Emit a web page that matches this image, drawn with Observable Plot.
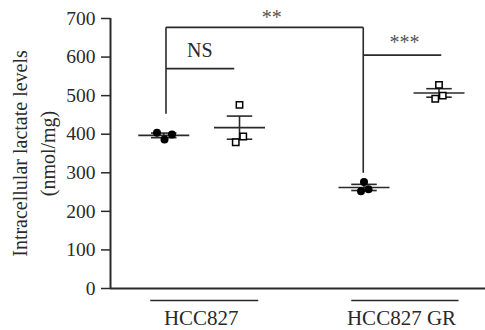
<!DOCTYPE html>
<html><head><meta charset="utf-8">
<script src="https://cdn.jsdelivr.net/npm/d3@7"></script>
<script src="https://cdn.jsdelivr.net/npm/@observablehq/plot@0.6"></script>
<style>body{margin:0;background:#fff} svg{display:block}</style>
</head><body><div id="chart"></div>
<script>
// groups (two per cell line)
const groupPos   = [0.71, 1.72, 3.38, 4.38];
const groupShape = ["circle", "square", "circle", "square"];
const groupMean  = [397, 417, 262, 507];
const groupSem   = [6, 30, 8, 11];
// individual points
const pointGroup  = [0, 0, 0, 1, 1, 1, 2, 2, 2, 3, 3, 3];
const pointValue  = [404, 386, 399, 476, 394, 379, 276, 252, 257, 528, 500, 492];
const pointJitter = [-0.09, 0.01, 0.11, 0, 0.05, -0.05, 0, -0.04, 0.06, 0, 0.05, -0.05];
// cell lines
const cellLines    = ["HCC827", "HCC827 GR"];
const cellLabelPos = [1.21, 3.88];
const cellSpanFrom = [0.53, 3.21];
const cellSpanTo   = [1.97, 4.64];
// y ticks
const yTicks = [0, 100, 200, 300, 400, 500, 600, 700];
// significance brackets
const sigLabels = ["NS", "**", "***"];
const sigX      = [1.19, 2.15, 3.92];
const sigY      = [600, 686, 622];
const sigColor  = ["#2a2a2a", "#555", "#555"];
const brX1 = [0.74, 0.74, 3.37, 3.37, 0.74];
const brX2 = [1.65, 3.37, 4.41, 3.37, 0.74];
const brY1 = [570, 677, 605, 677, 677];
const brY2 = [570, 677, 605, 300, 453];
// axis title
const yTitle = "Intracellular lactate levels\n(nmol/mg)";

const font = "Liberation Serif, Times New Roman, serif";
const groups = groupPos.map((p, i) => ({pos: p, shape: groupShape[i], mean: groupMean[i], sem: groupSem[i]}));
const points = pointValue.map((v, i) => ({x: groupPos[pointGroup[i]] + pointJitter[i], y: v, shape: groupShape[pointGroup[i]]}));
const cells = cellLines.map((c, i) => ({name: c, x: cellLabelPos[i], x1: cellSpanFrom[i], x2: cellSpanTo[i]}));
const sigs = sigLabels.map((s, i) => ({label: s, x: sigX[i], y: sigY[i], color: sigColor[i]}));
const brackets = brX1.map((x, i) => ({x1: x, x2: brX2[i], y1: brY1[i], y2: brY2[i]}));
const ink = "#2a2a2a";

const chart = Plot.plot({
  width: 485, height: 330,
  marginLeft: 110, marginRight: 0, marginTop: 18, marginBottom: 42,
  style: {fontFamily: font, fontSize: "19px", color: ink, background: "#fff", overflow: "visible"},
  x: {domain: [0, 5], axis: null},
  y: {domain: [0, 700], axis: null},
  marks: [
    Plot.axisY({ticks: yTicks, tickSize: 9, tickPadding: 6, label: null, fontSize: 19.5, stroke: ink, strokeWidth: 1.5}),
    Plot.ruleX([0], {y1: 0, y2: 700, stroke: ink, strokeWidth: 2}),
    Plot.ruleY([0], {stroke: ink, strokeWidth: 2.2}),
    // brackets
    Plot.link(brackets, {x1: "x1", x2: "x2", y1: "y1", y2: "y2", stroke: ink, strokeWidth: 1.6}),
    // mean and SEM
    Plot.link(groups, {x1: d => d.pos - 0.34, x2: d => d.pos + 0.34, y1: "mean", y2: "mean", stroke: ink, strokeWidth: 1.6}),
    Plot.link(groups, {x1: d => d.pos - 0.17, x2: d => d.pos + 0.17, y1: d => d.mean + d.sem, y2: d => d.mean + d.sem, stroke: ink, strokeWidth: 1.6}),
    Plot.link(groups, {x1: d => d.pos - 0.17, x2: d => d.pos + 0.17, y1: d => d.mean - d.sem, y2: d => d.mean - d.sem, stroke: ink, strokeWidth: 1.6}),
    Plot.link(groups, {x1: "pos", x2: "pos", y1: d => d.mean - d.sem, y2: d => d.mean + d.sem, stroke: ink, strokeWidth: 1.6}),
    // points
    Plot.dot(points.filter(d => d.shape === "circle"), {x: "x", y: "y", r: 4, fill: "#000", stroke: "none"}),
    Plot.dot(points.filter(d => d.shape === "square"), {x: "x", y: "y", r: 3.6, symbol: "square", fill: "#fff", stroke: "#000", strokeWidth: 1.5}),
    // significance labels
    Plot.text(sigs, {x: "x", y: "y", text: "label", fontSize: 20, fill: "color", lineAnchor: "bottom"}),
    // cell line underlines and labels
    Plot.link(cells, {x1: "x1", x2: "x2", y1: () => 0, y2: () => 0, dy: 12, stroke: ink, strokeWidth: 1.5}),
    Plot.text(cells, {x: "x", y: () => 0, text: "name", dy: 36, lineAnchor: "bottom", fontSize: 21, fill: ink}),
    // y-axis title
    Plot.text([yTitle], {x: () => -1.05, y: () => 350, rotate: -90, textAnchor: "middle", lineAnchor: "middle", lineHeight: 1.4, fontSize: 20, fill: ink})
  ]
});
document.getElementById("chart").append(chart);
</script>
</body></html>
